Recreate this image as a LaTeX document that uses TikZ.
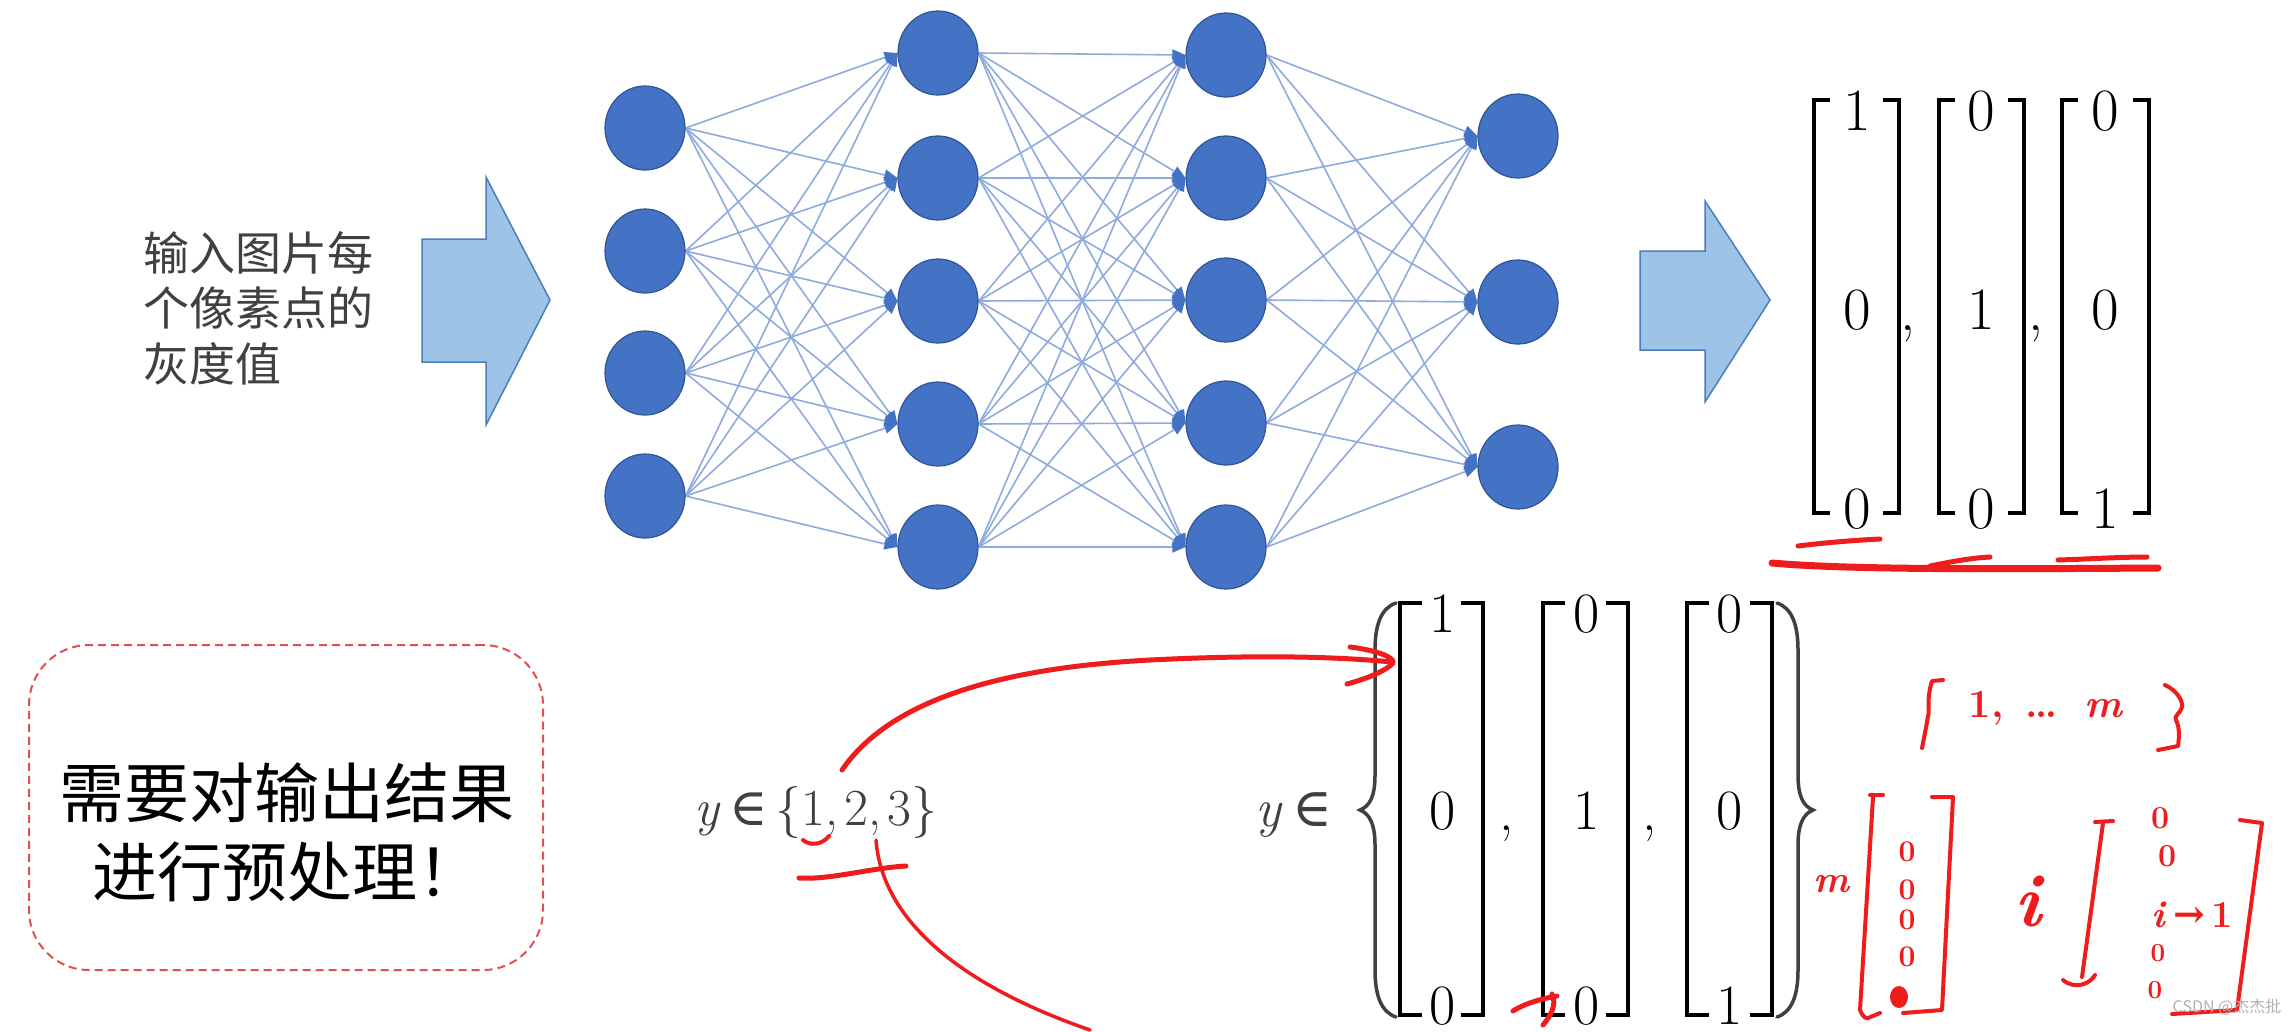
\documentclass[tikz,border=0pt]{standalone}
\usepackage{fontspec}
\newfontfamily\cjk{Noto Sans CJK SC}
\newfontfamily\sym{DejaVu Serif}
\usetikzlibrary{arrows.meta,shapes.geometric}
\pgfdeclarelayer{background}
\pgfsetlayers{background,main}
\definecolor{nodeblue}{HTML}{4472C4}
\definecolor{nodeedge}{HTML}{2F5597}
\definecolor{linkblue}{HTML}{8FAADC}
\definecolor{arrowfill}{HTML}{9DC3E6}
\definecolor{arrowedge}{HTML}{4A7EBB}
\definecolor{textgray}{HTML}{404040}
\definecolor{redpen}{HTML}{EE1C1C}
\definecolor{boxred}{HTML}{E05050}
\begin{document}
\begin{tikzpicture}[x=1pt,y=-1pt,
  neuron/.style={ellipse, fill=nodeblue, draw=nodeedge, line width=1.2pt, minimum width=80pt, minimum height=84pt, inner sep=0pt},
  conn/.style={draw=linkblue, line width=1.6pt, -{Triangle[length=13pt,width=11pt,color=nodeblue]}},
  bigarrow/.style={fill=arrowfill, draw=arrowedge, line width=1.5pt, line join=miter},
  dig/.style={font=\fontsize{60}{60}\selectfont, inner sep=0pt},
  digb/.style={font=\fontsize{57}{57}\selectfont, inner sep=0pt},
  brk/.style={line width=4pt, black},
  brace/.style={line width=3.5pt, textgray, line cap=round},
  pen/.style={redpen, line width=5pt, line cap=round, line join=round},
  pentext/.style={redpen, inner sep=0pt},
]
\begin{pgfonlayer}{background}
\useasboundingbox[fill=white] (0,0) rectangle (2293,1023);
\end{pgfonlayer}

% ---------- left label ----------
\node[anchor=west, align=left, inner sep=0pt, text=textgray,
      font=\cjk\fontsize{46}{55.5}\selectfont] (lbl) at (143,308)
      {输入图片每\\个像素点的\\灰度值};

% ---------- block arrows ----------
\draw[bigarrow] (422,239) -- (486,239) -- (486,177) -- (550,300) -- (486,425) -- (486,362) -- (422,362) -- cycle;
\draw[bigarrow] (1640,251) -- (1705,251) -- (1705,201) -- (1770,300) -- (1705,402) -- (1705,350) -- (1640,350) -- cycle;

% ---------- network ----------
\foreach \n/\y in {1/128,2/251,3/373,4/496} \node[neuron] (i\n) at (645,\y) {};
\foreach \n/\y in {1/53,2/178,3/301,4/424,5/547} \node[neuron] (a\n) at (938,\y) {};
\foreach \n/\y in {1/55,2/178,3/300,4/423,5/547} \node[neuron] (b\n) at (1226,\y) {};
\foreach \n/\y in {1/136,2/302,3/467} \node[neuron] (o\n) at (1518,\y) {};

\begin{pgfonlayer}{background}
\foreach \s in {1,...,4} \foreach \t in {1,...,5} \draw[conn] (i\s.east) -- (a\t.west);
\foreach \s in {1,...,5} \foreach \t in {1,...,5} \draw[conn] (a\s.east) -- (b\t.west);
\foreach \s in {1,...,5} \foreach \t in {1,...,3} \draw[conn] (b\s.east) -- (o\t.west);
\end{pgfonlayer}

% ---------- top-right one-hot vectors ----------
\foreach \L/\R in {1814/1899,1939/2024,2062/2149}{
  \draw[brk] (\L+16,100) -- (\L,100) -- (\L,513) -- (\L+16,513);
  \draw[brk] (\R-16,100) -- (\R,100) -- (\R,513) -- (\R-16,513);
}
\node[dig] (t11) at (1857,111) {1};
\node[dig] (t12) at (1857,310) {0};
\node[dig] (t13) at (1857,509) {0};
\node[dig] (t21) at (1981,111) {0};
\node[dig] (t22) at (1981,310) {1};
\node[dig] (t23) at (1981,509) {0};
\node[dig] (t31) at (2105,111) {0};
\node[dig] (t32) at (2105,310) {0};
\node[dig] (t33) at (2105,509) {1};
\node[dig, anchor=base] (tc1) at (1908,330) {,};
\node[dig, anchor=base] (tc2) at (2036,330) {,};

% red underlines (top)
\draw[pen] (1798,546) .. controls (1830,542) and (1860,540) .. (1880,539);
\draw[pen, line width=7pt] (1772,563) .. controls (1850,570) and (2000,569) .. (2158,568);
\draw[pen] (1930,566) .. controls (1950,562) and (1970,558) .. (1990,557);
\draw[pen] (2058,560) .. controls (2090,559) and (2120,557) .. (2147,557);

% ---------- dashed box ----------
\node[draw=boxred, dashed, dash pattern=on 8pt off 5pt, line width=2pt, rounded corners=60pt,
      minimum width=514pt, minimum height=325pt, inner sep=0pt] (box) at (286,807.5) {};
\node[align=center, inner sep=0pt, font=\cjk\fontsize{65}{79}\selectfont] (boxtxt) at (287,832)
      {需要对输出结果\\进行预处理！};

% ---------- y in {1,2,3} ----------
\node[inner sep=0pt, text=textgray, font=\fontsize{52}{60}\selectfont] (yset) at (816,812)
      {\textit{y}\hspace{8pt}{\sym ∈}\hspace{8pt}\{1,\hspace{6pt}2,\hspace{6pt}3\}};

% ---------- y in { vectors } ----------
\node[inner sep=0pt, text=textgray, font=\fontsize{54}{60}\selectfont] (yin) at (1294,815) {\textit{y}\,{\sym ∈}};
\draw[brace] (1396,603) .. controls (1381,608) and (1375,625) .. (1375,650) -- (1375,775)
   .. controls (1375,796) and (1370,806) .. (1360,810) .. controls (1370,814) and (1375,825) .. (1375,845)
   -- (1375,970) .. controls (1375,995) and (1381,1012) .. (1396,1017);
\draw[brace] (1777,603) .. controls (1792,608) and (1798,625) .. (1798,650) -- (1798,775)
   .. controls (1798,796) and (1803,806) .. (1813,810) .. controls (1803,814) and (1798,825) .. (1798,845)
   -- (1798,970) .. controls (1798,995) and (1792,1012) .. (1777,1017);
\foreach \L/\R in {1400/1483,1543/1628,1687/1772}{
  \draw[brk] (\L+22,603) -- (\L,603) -- (\L,1015) -- (\L+22,1015);
  \draw[brk] (\R-22,603) -- (\R,603) -- (\R,1015) -- (\R-22,1015);
}
\node[digb] (v11) at (1443,614) {1};
\node[digb] (v12) at (1443,811) {0};
\node[digb] (v13) at (1443,1006) {0};
\node[digb] (v21) at (1587,614) {0};
\node[digb] (v22) at (1587,811) {1};
\node[digb] (v23) at (1587,1006) {0};
\node[digb] (v31) at (1730,614) {0};
\node[digb] (v32) at (1730,811) {0};
\node[digb] (v33) at (1730,1006) {1};
\node[digb, anchor=base] (vc1) at (1507,830) {,};
\node[digb, anchor=base] (vc2) at (1650,830) {,};

% ---------- red pen annotations (bottom) ----------
\draw[pen] (842,770) .. controls (890,700) and (1000,668) .. (1150,660) .. controls (1250,655) and (1330,656) .. (1392,662);
\draw[pen] (1350,647) .. controls (1375,650) and (1395,657) .. (1393,663) .. controls (1385,672) and (1362,680) .. (1347,684);
\draw[pen, line width=4pt] (803,840) .. controls (810,846) and (822,845) .. (829,836);
\draw[pen] (799,878) .. controls (830,880) and (870,868) .. (906,866);
\draw[pen, line width=3.5pt] (876,840) .. controls (882,920) and (960,985) .. (1090,1030);
\draw[pen] (1513,1011) .. controls (1525,1003) and (1545,998) .. (1557,996);
\draw[pen] (1552,994) .. controls (1557,1005) and (1551,1015) .. (1543,1025);

% {1, ..., m}
\draw[pen, line width=4pt] (1943,680) -- (1932,681) .. controls (1926,700) and (1930,712) .. (1928,716) .. controls (1926,728) and (1924,738) .. (1922,748);
\draw[pen, line width=4pt] (2165,685) .. controls (2176,690) and (2183,700) .. (2182,707) .. controls (2181,713) and (2173,716) .. (2176,720) .. controls (2180,728) and (2179,738) .. (2178,746) -- (2158,750);
\node[pentext, font=\bfseries\fontsize{40}{40}\selectfont] (rset) at (2046,708) {1,\hspace{22pt}\ldots\hspace{26pt}\textit{m}};

% m [ ... ]
\node[pentext, font=\bfseries\fontsize{38}{38}\selectfont] (rm) at (1832,884) {\textit{m}};
\draw[pen, line width=4pt] (1870,795) -- (1883,795);
\draw[pen, line width=4pt] (1873,797) -- (1860,1010) .. controls (1862,1016) and (1866,1019) .. (1868,1018) -- (1880,1013);
\draw[pen, line width=4pt] (1932,797) -- (1953,797) -- (1942,1010) -- (1903,1013);
\foreach \k/\y in {1/852,2/890,3/920,4/957}
  \node[pentext, font=\bfseries\fontsize{30}{30}\selectfont] (rz\k) at (1907,\y) {0};
\fill[redpen] (1899,997) ellipse (9pt and 11pt);

% i [ ... ]
\node[pentext, font=\bfseries\fontsize{75}{75}\selectfont] (ri) at (2030,902) {\textit{i}};
\draw[pen, line width=4pt] (2095,822) -- (2113,821);
\draw[pen, line width=4pt] (2103,823) -- (2082,977);
\draw[pen, line width=4pt] (2063,980) .. controls (2075,990) and (2090,984) .. (2095,975);
\draw[pen, line width=4pt] (2240,820) -- (2262,823) -- (2237,1010) -- (2172,1014);
\node[pentext, font=\bfseries\fontsize{32}{32}\selectfont] (rq1) at (2160,818) {0};
\node[pentext, font=\bfseries\fontsize{32}{32}\selectfont] (rq2) at (2167,856) {0};
\node[pentext, font=\bfseries\fontsize{38}{38}\selectfont] (rq3) at (2192,915) {\textit{i}\,{\sym →}\,1};
\node[pentext, font=\bfseries\fontsize{26}{26}\selectfont] (rq4) at (2158,953) {0};
\node[pentext, font=\bfseries\fontsize{26}{26}\selectfont] (rq5) at (2155,990) {0};

% watermark
\node[inner sep=0pt, text=gray!60, font=\cjk\fontsize{16}{16}\selectfont] (wm) at (2227,1007) {CSDN @杰杰批};
\end{tikzpicture}
\end{document}
